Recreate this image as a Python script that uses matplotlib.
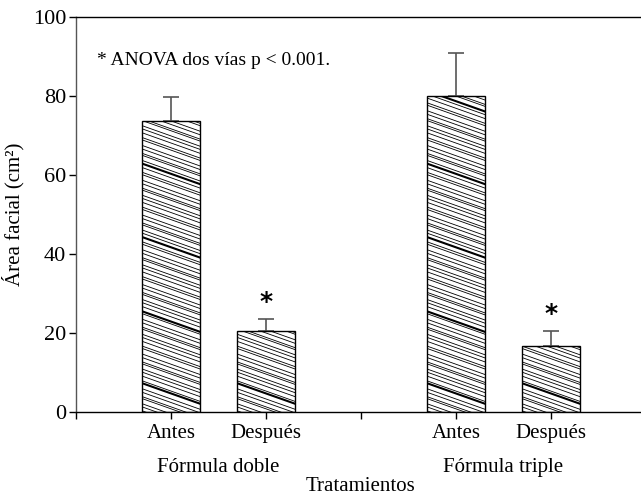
import numpy as np
import matplotlib.pyplot as plt
from matplotlib.transforms import blended_transform_factory

plt.rcParams['font.family'] = ['Liberation Serif', 'DejaVu Serif']

# data
conditions = ['Antes', 'Después', 'Antes', 'Después']
groups = ['Fórmula doble', 'Fórmula triple']
positions = [1, 2, 4, 5]
means = [73.7, 20.6, 80.1, 16.7]
errs = [6.0, 2.9, 10.8, 3.8]
signif = [False, True, False, True]

fig = plt.figure(figsize=(6.41, 4.96), dpi=100)
ax = fig.add_axes([0.1186, 0.1694, 0.8814, 0.7963])

bw = 0.61
bars = ax.bar(positions, means, width=bw, color='white', edgecolor='black', linewidth=1.0, zorder=2)
ax.errorbar(positions, means, yerr=[np.zeros(len(errs)), errs], fmt='none',
            ecolor='#555555', elinewidth=1.2, capsize=6, capthick=1.2, zorder=1)

# shallow diagonal hatching clipped to each bar
drop = 5.2
gaps = [1.0, 0.8, 1.3, 0.5, 1.1, 0.9, 1.4, 0.6, 1.2]
for b in bars:
    x0 = b.get_x()
    w = b.get_width()
    h = b.get_height()
    c = 0.3
    i = 0
    while c < h + drop + 1:
        lw = 1.5 if i % 19 == 7 else 0.6
        ln, = ax.plot([x0, x0 + w], [c, c - drop], color='black', lw=lw, zorder=3)
        ln.set_clip_path(b)
        c += gaps[i % len(gaps)]
        i += 1

for p, m, e, s in zip(positions, means, errs, signif):
    if s:
        ax.text(p, m + e + 1.2, '*', ha='center', va='bottom', fontsize=18,
                family='DejaVu Sans', fontweight='bold')

ax.set_xlim(0, 5.95)
ax.set_ylim(0, 100)
ax.set_yticks([0, 20, 40, 60, 80, 100])
ax.set_xticks([0] + positions + [3])
ax.set_xticklabels([''] + conditions + [''])
ax.tick_params(axis='y', labelsize=16, direction='out', length=5, width=1, pad=2)
ax.tick_params(axis='x', labelsize=15, direction='out', length=5, width=1, pad=4)
ax.spines['right'].set_visible(False)
for sp in ['left', 'bottom', 'top']:
    ax.spines[sp].set_linewidth(1.0)
ax.spines['left'].set_color('#555555')

trans = blended_transform_factory(ax.transData, ax.transAxes)
ax.text(1.5, -0.14, groups[0], transform=trans, ha='center', va='center', fontsize=15)
ax.text(4.5, -0.14, groups[1], transform=trans, ha='center', va='center', fontsize=15)
fig.text(0.562, 0.02, 'Tratamientos', ha='center', va='center', fontsize=15)
ax.set_ylabel('Área facial (cm²)', fontsize=15, labelpad=6)

ax.text(0.22, 89, '* ANOVA dos vías p < 0.001.', fontsize=14, va='center')

fig.savefig('out.png', dpi=100)
